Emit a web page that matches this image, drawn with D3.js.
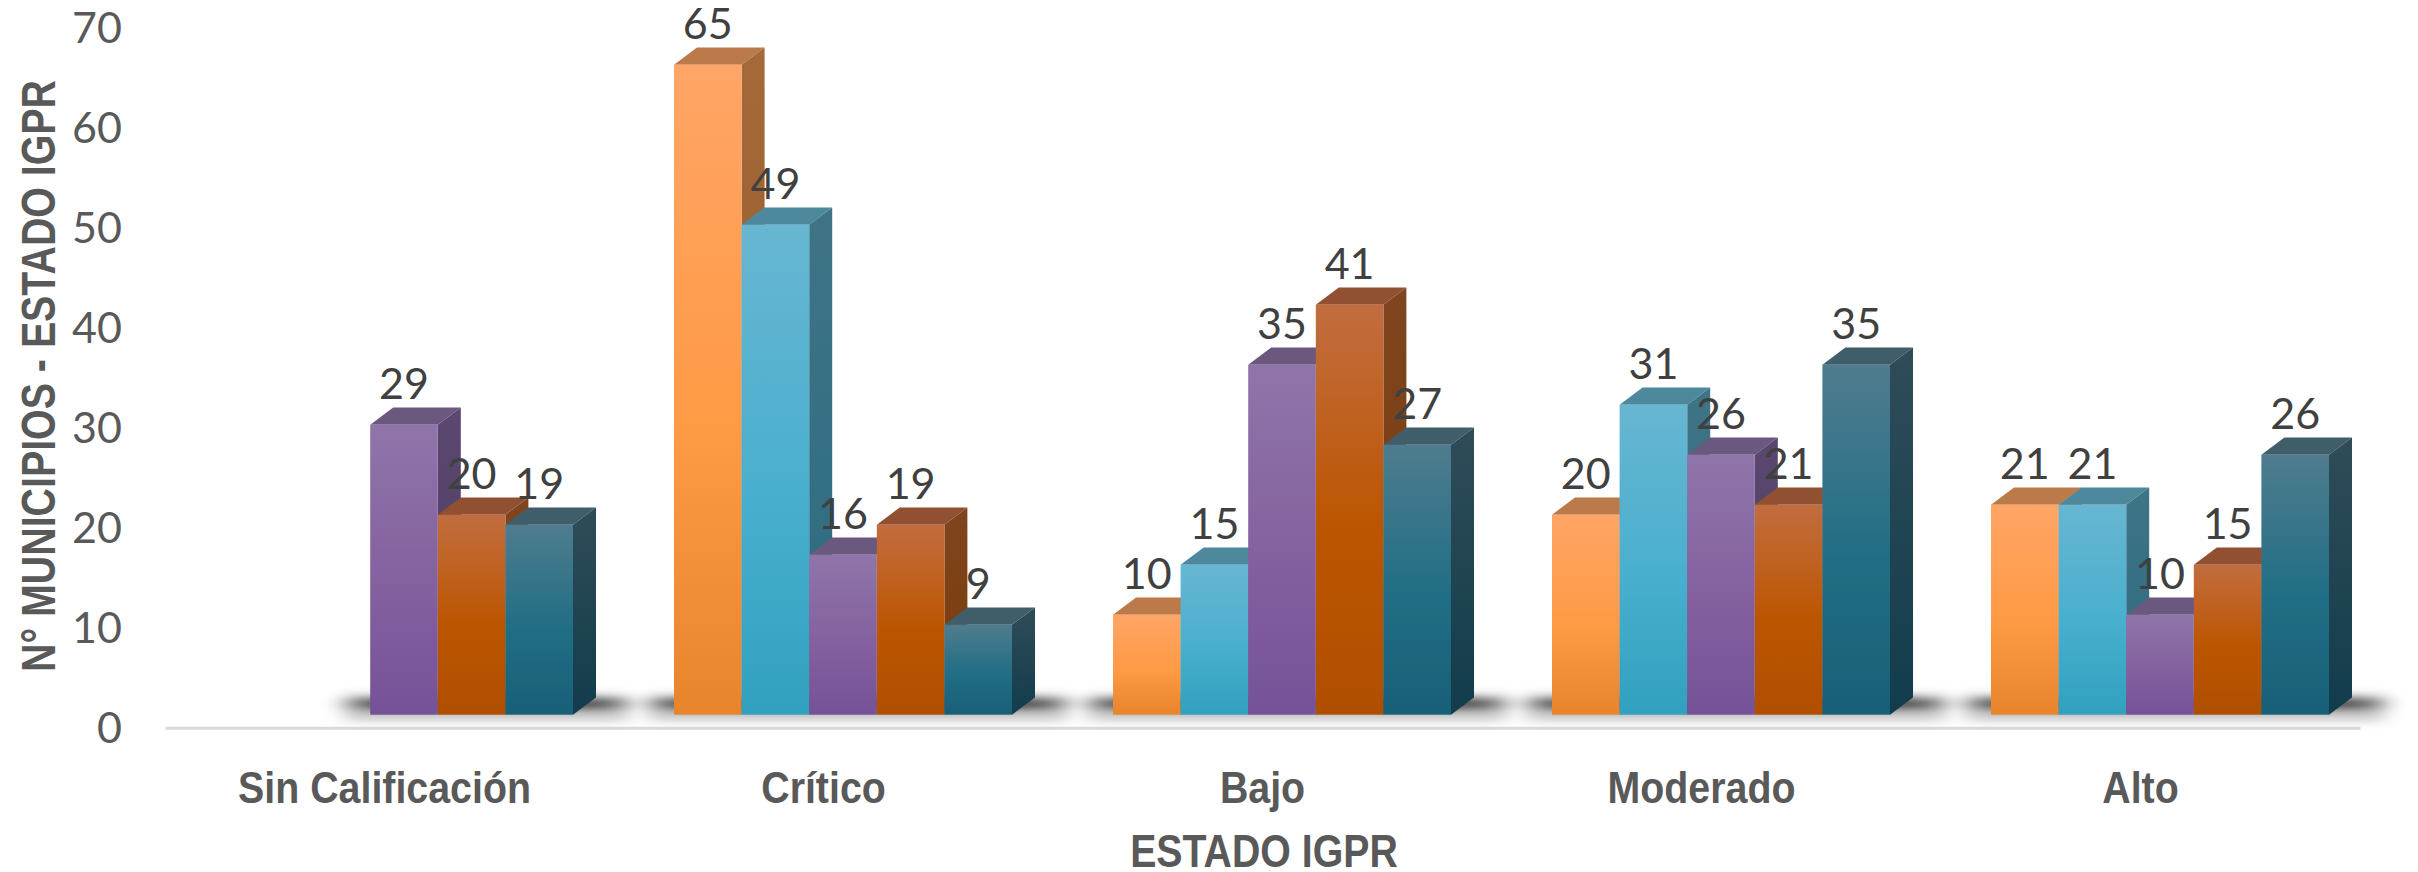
<!doctype html>
<html>
<head>
<meta charset="utf-8">
<style>
    html, body { margin: 0; padding: 0; background: #fff; }
    svg { display: block; }
    .tick-y text { font-family: Lato, sans-serif; font-size: 43px; fill: #595959; }
    .tick-x text { font-family: "Liberation Sans", sans-serif; font-weight: bold; font-size: 45px; fill: #595959; }
    .axis-title { font-family: "Liberation Sans", sans-serif; font-weight: bold; font-size: 46px; fill: #595959; }
    .value { font-family: Lato, sans-serif; font-size: 43px; fill: #404040; text-anchor: middle; }
</style>
<script src="https://d3js.org/d3.v7.min.js"></script>
</head>
<body>
<script>
    // chart data (no legend in the original, so series are just numbered)
    var categories = ["Sin Calificación", "Crítico", "Bajo", "Moderado", "Alto"];
    var seriesNames = ["s1", "s2", "s3", "s4", "s5"];
    var s1 = [null, 65, 10, 20, 21];
    var s2 = [null, 49, 15, 31, 21];
    var s3 = [29, 16, 35, 26, 10];
    var s4 = [20, 19, 41, 21, 15];
    var s5 = [19, 9, 27, 35, 26];
    var yTicks = [0, 10, 20, 30, 40, 50, 60, 70];

    var allSeries = [s1, s2, s3, s4, s5];

    var canvasWidth = 2418;
    var canvasHeight = 872;

    // bar colours: front gradient (top, middle, bottom), top face, side gradient (top, bottom)
    var colors = {
        s1: { front: ["#ffa566", "#ff9a45", "#e8842c"], top: "#bc7a4a", side: ["#a66a3a", "#8e5520"] },
        s2: { front: ["#67b6d2", "#49afce", "#31a0bf"], top: "#4e889c", side: ["#3f7486", "#2b6a80"] },
        s3: { front: ["#8f75aa", "#84609f", "#755298"], top: "#6b587f", side: ["#5a4870", "#4c3a66"] },
        s4: { front: ["#c26d40", "#bc5500", "#b04e00"], top: "#925032", side: ["#80451f", "#7a3a08"] },
        s5: { front: ["#4f7c8e", "#206e85", "#185f78"], top: "#3f5e6a", side: ["#2f4c58", "#123c4c"] }
    };

    var svg = d3.select("body").append("svg")
        .attr("width", canvasWidth)
        .attr("height", canvasHeight);

    var xScale = d3.scaleBand().domain(categories).range([165, 2360]);
    // bars sit a bit to the right of the band, the category labels stay centred
    var xInner = d3.scaleBand().domain(seriesNames).range([70, 408]);
    var yScale = d3.scaleLinear().domain([0, 70]).range([729, 29]);

    // the 3d look: floor lifted above the axis, side and top faces skewed back
    var floorLift = 14.3;
    var depthX = 23;
    var depthY = 17.3;

    var defs = svg.append("defs");

    seriesNames.forEach(function(s) {
        var f = defs.append("linearGradient").attr("id", "front-" + s)
            .attr("x1", 0).attr("y1", 0).attr("x2", 0).attr("y2", 1);
        f.append("stop").attr("offset", "0%").attr("stop-color", colors[s].front[0]);
        f.append("stop").attr("offset", "55%").attr("stop-color", colors[s].front[1]);
        f.append("stop").attr("offset", "100%").attr("stop-color", colors[s].front[2]);

        var g = defs.append("linearGradient").attr("id", "side-" + s)
            .attr("x1", 0).attr("y1", 0).attr("x2", 0).attr("y2", 1);
        g.append("stop").attr("offset", "0%").attr("stop-color", colors[s].side[0]);
        g.append("stop").attr("offset", "100%").attr("stop-color", colors[s].side[1]);
    });

    var blurWide = defs.append("filter").attr("id", "blur-wide")
        .attr("x", "-20%").attr("y", "-300%").attr("width", "140%").attr("height", "700%");
    blurWide.append("feGaussianBlur").attr("stdDeviation", "10 5");

    var blurCore = defs.append("filter").attr("id", "blur-core")
        .attr("x", "-20%").attr("y", "-300%").attr("width", "140%").attr("height", "700%");
    blurCore.append("feGaussianBlur").attr("stdDeviation", "16 4");

    // flatten to one record per bar
    var bars = [];
    categories.forEach(function(c, i) {
        seriesNames.forEach(function(s, j) {
            if (allSeries[j][i] !== null) {
                bars.push({ category: c, series: s, value: allSeries[j][i] });
            }
        });
    });

    function barLeft(d) { return xScale(d.category) + xInner(d.series); }
    function barTop(d) { return yScale(d.value) - floorLift; }
    var baseY = yScale(0) - floorLift;
    var barW = xInner.bandwidth();

    // no narrow font here, so squeeze the bold one to the width it has in the picture
    function condense(sel, factor) {
        sel.each(function() {
            d3.select(this)
                .attr("textLength", this.getComputedTextLength() * factor)
                .attr("lengthAdjust", "spacingAndGlyphs");
        });
    }

    // floor shadow, one per group, from its first real bar to its last
    var shadowData = categories.map(function(c) {
        var inGroup = bars.filter(function(d) { return d.category === c; });
        return { left: barLeft(inGroup[0]), right: barLeft(inGroup[inGroup.length - 1]) + barW };
    });

    svg.append("g").attr("filter", "url(#blur-wide)")
        .selectAll("rect").data(shadowData).enter().append("rect")
        .attr("x", function(d) { return d.left - 25; })
        .attr("y", baseY - 20)
        .attr("width", function(d) { return d.right - d.left + 80; })
        .attr("height", 26)
        .attr("fill", "#000").attr("fill-opacity", 0.22);
    svg.append("g").attr("filter", "url(#blur-core)")
        .selectAll("rect").data(shadowData).enter().append("rect")
        .attr("x", function(d) { return d.left - 15; })
        .attr("y", baseY - 15)
        .attr("width", function(d) { return d.right - d.left + 60; })
        .attr("height", 8)
        .attr("fill", "#000").attr("fill-opacity", 0.8);

    // y axis, numbers only
    svg.append("g").attr("class", "tick-y")
        .attr("transform", "translate(122,0)")
        .call(d3.axisLeft(yScale).tickValues(yTicks).tickSize(0).tickPadding(0))
        .call(function(g) { g.select(".domain").remove(); });

    // x axis
    svg.append("g").attr("class", "tick-x")
        .attr("transform", "translate(0,727.7)")
        .call(d3.axisBottom(xScale).tickSize(0).tickPadding(43))
        .call(function(g) { g.select(".domain").attr("stroke", "#d9d9d9").attr("stroke-width", 3); })
        .call(function(g) { g.selectAll(".tick text").call(condense, 0.874); });

    // draw left to right so each bar covers the side face of the one before
    var barG = svg.selectAll(".bar").data(bars).enter().append("g").attr("class", "bar");

    barG.append("polygon")
        .attr("fill", function(d) { return colors[d.series].top; })
        .attr("points", function(d) {
            var x = barLeft(d), y = barTop(d);
            return [[x, y], [x + depthX, y - depthY], [x + barW + depthX, y - depthY], [x + barW, y]].join(" ");
        });

    barG.append("polygon")
        .attr("fill", function(d) { return "url(#side-" + d.series + ")"; })
        .attr("points", function(d) {
            var x = barLeft(d) + barW, y = barTop(d);
            return [[x, y], [x + depthX, y - depthY], [x + depthX, baseY - depthY], [x, baseY]].join(" ");
        });

    barG.append("rect")
        .attr("x", barLeft)
        .attr("y", barTop)
        .attr("width", barW)
        .attr("height", function(d) { return baseY - barTop(d); })
        .attr("fill", function(d) { return "url(#front-" + d.series + ")"; });

    // value labels go on top of everything
    svg.selectAll(".value").data(bars).enter().append("text")
        .attr("class", "value")
        .attr("x", function(d) { return barLeft(d) + barW / 2; })
        .attr("y", function(d) { return barTop(d) - depthY - 8; })
        .text(function(d) { return d.value; });

    svg.append("text").attr("class", "axis-title")
        .attr("text-anchor", "middle")
        .attr("x", 1264)
        .attr("y", 866.7)
        .text("ESTADO IGPR")
        .call(condense, 0.854);

    svg.append("text").attr("class", "axis-title")
        .attr("text-anchor", "middle")
        .attr("transform", "translate(54.6,376) rotate(-90)")
        .style("font-size", "49px")
        .text("N° MUNICIPIOS - ESTADO IGPR")
        .attr("textLength", 592)
        .attr("lengthAdjust", "spacingAndGlyphs");
</script>
</body>
</html>
